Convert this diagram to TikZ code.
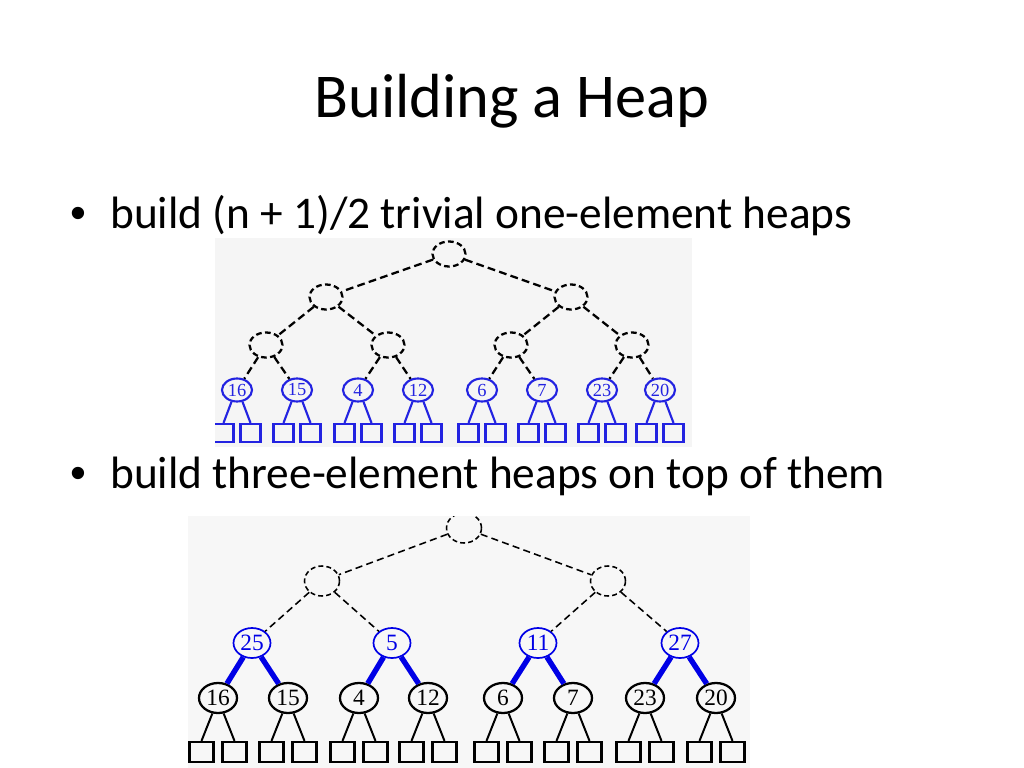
\documentclass[tikz,border=0pt]{standalone}
\usepackage{fontspec}
\setmainfont{Carlito}
\newfontfamily\serifnum{Liberation Serif}
\newfontfamily\bulletfont{Liberation Sans}
\usetikzlibrary{shapes.geometric}
\newlength\pxu \setlength\pxu{0.70576pt}
\definecolor{hblue}{RGB}{35,35,225}
\definecolor{kblue}{RGB}{0,0,230}
\definecolor{bgA}{RGB}{245,245,245}
\definecolor{bgB}{RGB}{247,247,247}
\begin{document}
\begin{tikzpicture}[x=0.70576pt,y=-0.70576pt,
  titletext/.style={font=\fontsize{44}{52}\selectfont, anchor=base, inner sep=0},
  bullettext/.style={font=\fontsize{32}{38}\selectfont, anchor=base west, inner sep=0},
  bulletdot/.style={font=\bulletfont\fontsize{32}{38}\selectfont, anchor=base west, inner sep=0},
  emptyA/.style={ellipse, draw=black, line width=1.6pt, dash pattern=on 4pt off 2.4pt, minimum width=33\pxu, minimum height=25\pxu, inner sep=0pt},
  keyA/.style={ellipse, draw=hblue, line width=1.5pt, text=hblue, font=\serifnum\fontsize{13}{15}\selectfont, minimum width=30\pxu, minimum height=23\pxu, inner sep=0pt},
  leafA/.style={rectangle, draw=hblue, line width=1.5pt, minimum width=20\pxu, minimum height=18\pxu, inner sep=0pt},
  dashA/.style={line width=1.6pt, dash pattern=on 5.5pt off 3pt},
  solidA/.style={draw=hblue, line width=1.5pt},
  emptyB/.style={ellipse, draw=black, line width=1.1pt, dash pattern=on 3.5pt off 2.2pt, minimum width=35\pxu, minimum height=30\pxu, inner sep=0pt},
  keyB/.style={ellipse, draw=kblue, line width=1.2pt, text=kblue, font=\serifnum\fontsize{16.5}{18}\selectfont, minimum width=37\pxu, minimum height=30\pxu, inner sep=0pt},
  numB/.style={ellipse, draw=black, line width=1.6pt, font=\serifnum\fontsize{16.5}{18}\selectfont, minimum width=38\pxu, minimum height=30\pxu, inner sep=0pt},
  leafB/.style={rectangle, draw=black, line width=1.6pt, minimum width=24\pxu, minimum height=20\pxu, inner sep=0pt},
  dashB/.style={line width=1.1pt, dash pattern=on 5pt off 3pt},
  solidB/.style={draw=black, line width=1.4pt},
  thickB/.style={draw=kblue, line width=3.8pt}
]
\path[use as bounding box, fill=white] (0,0) rectangle (1024,768);

% texts
\node[titletext] (title) at (512,118) {Building a Heap};
\node[bulletdot] (b1dot) at (70,228) {•};
\node[bullettext] (b1) at (110,228) {build (n + 1)/2 trivial one-element heaps};
\node[bulletdot] (b2dot) at (70,488) {•};
\node[bullettext] (b2) at (110,488) {build three-element heaps on top of them};

% ---------- first tree ----------
\fill[bgA] (215,238) rectangle (692,447);
\begin{scope}
\clip (215,238) rectangle (692,447);
\node[emptyA] (a0) at (449,254) {};
\node[emptyA] (a1) at (326,297) {};
\node[emptyA] (a2) at (571,297) {};
\node[emptyA] (a3) at (266,345) {};
\node[emptyA] (a4) at (388,345) {};
\node[emptyA] (a5) at (511,345) {};
\node[emptyA] (a6) at (632,345) {};
\foreach \i/\x/\v in {7/237/16, 8/297/15, 9/358/4, 10/418/12, 11/482/6, 12/542/7, 13/602/23, 14/660/20} {
  \node[keyA] (a\i) at (\x,390) {\v};
  \node[leafA] (a\i l) at (\x-13.5,433) {};
  \node[leafA] (a\i r) at (\x+13.5,433) {};
  \draw[solidA] (a\i.-115) -- (a\i l.north);
  \draw[solidA] (a\i.-65) -- (a\i r.north);
}
\draw[dashA] (a0) -- (a1);
\draw[dashA] (a0) -- (a2);
\draw[dashA] (a1) -- (a3);
\draw[dashA] (a1) -- (a4);
\draw[dashA] (a2) -- (a5);
\draw[dashA] (a2) -- (a6);
\draw[dashA] (a3) -- (a7);
\draw[dashA] (a3) -- (a8);
\draw[dashA] (a4) -- (a9);
\draw[dashA] (a4) -- (a10);
\draw[dashA] (a5) -- (a11);
\draw[dashA] (a5) -- (a12);
\draw[dashA] (a6) -- (a13);
\draw[dashA] (a6) -- (a14);
\end{scope}

% ---------- second tree ----------
\fill[bgB] (188,516) rectangle (750,768);
\begin{scope}
\clip (188,516) rectangle (750,768);
\node[emptyB] (b0) at (464,528) {};
\node[emptyB] (b1n) at (322,581) {};
\node[emptyB] (b2n) at (608,581) {};
\node[keyB] (b3) at (252,643) {25};
\node[keyB] (b4) at (392,643) {5};
\node[keyB] (b5) at (538,643) {11};
\node[keyB] (b6) at (680,643) {27};
\foreach \i/\x/\v in {7/218/16, 8/288/15, 9/359/4, 10/428/12, 11/503/6, 12/573/7, 13/645/23, 14/716/20} {
  \node[numB] (b\i) at (\x,698) {\v};
  \node[leafB] (b\i l) at (\x-16.5,752) {};
  \node[leafB] (b\i r) at (\x+16.5,752) {};
  \draw[solidB] (b\i.-110) -- (b\i l.north);
  \draw[solidB] (b\i.-70) -- (b\i r.north);
}
\draw[dashB] (b0) -- (b1n);
\draw[dashB] (b0) -- (b2n);
\draw[dashB] (b1n) -- (b3);
\draw[dashB] (b1n) -- (b4);
\draw[dashB] (b2n) -- (b5);
\draw[dashB] (b2n) -- (b6);
\draw[thickB] (b3) -- (b7);
\draw[thickB] (b3) -- (b8);
\draw[thickB] (b4) -- (b9);
\draw[thickB] (b4) -- (b10);
\draw[thickB] (b5) -- (b11);
\draw[thickB] (b5) -- (b12);
\draw[thickB] (b6) -- (b13);
\draw[thickB] (b6) -- (b14);
\end{scope}
\end{tikzpicture}
\end{document}
